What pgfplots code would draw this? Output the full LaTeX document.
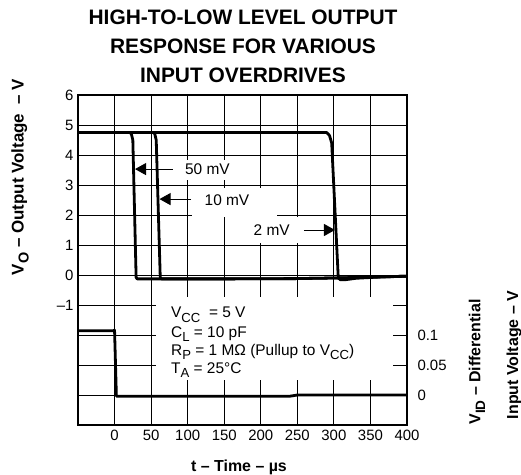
\documentclass[border=0pt]{standalone}
\usepackage{fontspec}
\setmainfont{Liberation Sans}
\usepackage{graphicx}
\usepackage{pgfplots}
\pgfplotsset{compat=1.18}
\usetikzlibrary{arrows.meta}

% subscript as in the datasheet: lowered, slightly smaller
\newcommand\sub[1]{\raisebox{-0.3em}{\scalebox{0.85}{#1}}}
\newcommand\annfont{\fontsize{15.5}{18}\selectfont}
\newcommand\labfont{\bfseries\fontsize{16}{18}\selectfont}

\begin{document}
\begin{tikzpicture}
\begin{axis}[
  scale only axis, width=329bp, height=330bp,
  at={(0bp,0bp)}, anchor=south west,
  xmin=-50, xmax=400, ymin=-5, ymax=6,
  xtick={0,50,...,400}, ytick={-4,...,6},
  yticklabels={,,,–1,0,1,2,3,4,5,6},
  grid=major, major grid style={black, line width=0.8bp},
  axis line style={line width=1.6bp},
  major tick length=0pt,
  tick label style={font=\fontsize{15}{17}\selectfont},
  /pgf/number format/assume math mode=true,
  xticklabel style={yshift=-2bp},
  yticklabel style={xshift=-1bp},
  clip=false,
]
% white patches behind the labels
\fill[white] (axis cs:82.7,3.83) rectangle (axis cs:160.6,3.17);
\fill[white] (axis cs:105.9,2.9) rectangle (axis cs:222.2,1.93);
\fill[white] (axis cs:178.4,1.93) rectangle (axis cs:257.8,1.07);
\fill[white] (axis cs:56.7,-0.73) rectangle (axis cs:380.9,-3.5);

% output traces
\addplot[black, line width=2.8bp, line join=round] coordinates {
  (-50,4.75) (21,4.75) (23,4.7) (25,4.5) (29.5,-0.08) (31,-0.13) (60,-0.13)
  (150,-0.13) (250,-0.12) (300,-0.1) (350,-0.07) (400,-0.04)};
\addplot[black, line width=2.8bp, line join=round] coordinates {
  (-50,4.75) (53,4.75) (55,4.7) (57,4.5) (62.5,-0.08) (64,-0.13)
  (150,-0.13) (250,-0.12) (300,-0.1) (350,-0.07) (400,-0.04)};
\addplot[black, line width=2.8bp, line join=round] coordinates {
  (-50,4.75) (290,4.75) (294,4.65) (297,4.4) (306,-0.1) (309,-0.16)
  (315,-0.16) (330,-0.11) (360,-0.07) (400,-0.04)};

% labels and arrows
\node[font=\annfont] at (axis cs:127.1,3.53) {50 mV};
\draw[line width=0.9bp, -{Triangle[length=11bp,width=12bp]}] (axis cs:79.9,3.53) -- (axis cs:28,3.53);
\node[font=\annfont] at (axis cs:153.8,2.5) {10 mV};
\draw[line width=0.9bp, -{Triangle[length=11bp,width=12bp]}] (axis cs:104.6,2.53) -- (axis cs:61.5,2.53);
\node[font=\annfont] at (axis cs:215,1.5) {2 mV};
\draw[line width=0.9bp, -{Triangle[length=11bp,width=12bp]}] (axis cs:259,1.5) -- (axis cs:301.5,1.5);

% test conditions
\node[font=\annfont, anchor=base west, inner sep=0pt] at (axis cs:77.2,-1.43) {V\sub{CC}\ \ = 5 V};
\node[font=\annfont, anchor=base west, inner sep=0pt] at (axis cs:77.2,-2.07) {C\sub{L} = 10 pF};
\node[font=\annfont, anchor=base west, inner sep=0pt] at (axis cs:77.2,-2.67) {R\sub{P} = 1 MΩ (Pullup to V\sub{CC})};
\node[font=\annfont, anchor=base west, inner sep=0pt] at (axis cs:77.2,-3.27) {T\sub{A} = 25°C};
\end{axis}

\begin{axis}[
  scale only axis, width=329bp, height=330bp,
  at={(0bp,0bp)}, anchor=south west,
  xmin=-50, xmax=400, ymin=-0.05, ymax=0.5,
  axis x line=none, axis y line*=right,
  axis line style={line width=1.6bp},
  ytick={0,0.05,0.1}, yticklabels={0,0.05,0.1},
  major tick length=0pt,
  tick label style={font=\fontsize{15}{17}\selectfont},
  yticklabel style={xshift=7bp},
  clip=false,
]
% differential input step
\addplot[black, line width=2.8bp, line join=round] coordinates {
  (-50,0.107) (-2,0.107) (0,0.108) (2.5,-0.002) (240,-0.002) (250,0) (400,0)};
\end{axis}

% titles and axis names
\node[font=\bfseries\fontsize{21}{29}\selectfont, align=center] at (165bp,379bp)
  {HIGH-TO-LOW LEVEL OUTPUT\\RESPONSE FOR VARIOUS\\INPUT OVERDRIVES};
\node[font=\bfseries\fontsize{17}{19}\selectfont, rotate=90] at (-58bp,248bp) {V\sub{O} – Output Voltage\ \ – V};
\node[font=\labfont] at (161bp,-42bp) {t – Time – µs};
\node[font=\labfont, rotate=90] at (399bp,63bp) {V\sub{ID} – Differential};
\node[font=\labfont, rotate=90] at (436bp,70bp) {Input Voltage – V};

\pgfresetboundingbox
\useasboundingbox (-78bp,-50bp) rectangle (443bp,425bp);
\end{tikzpicture}
\end{document}
